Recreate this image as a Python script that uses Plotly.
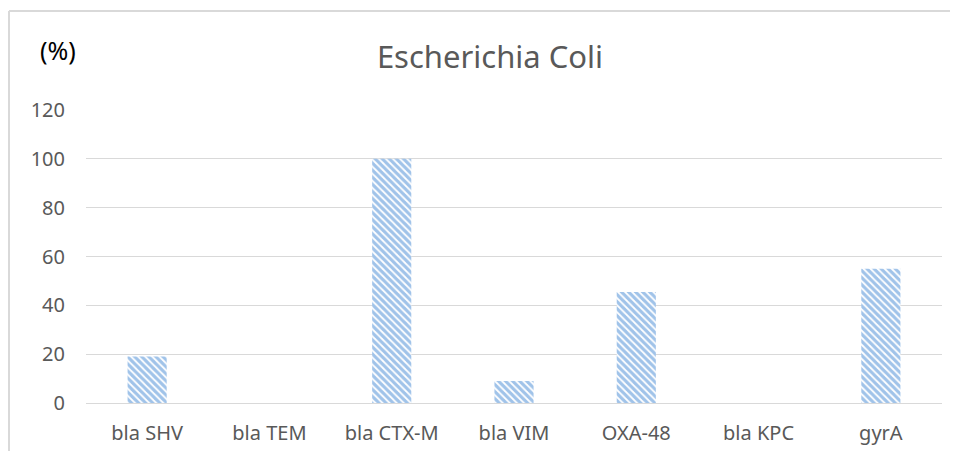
import plotly.graph_objects as go

categories = ["bla SHV", "bla TEM", "bla CTX-M", "bla VIM", "OXA-48", "bla KPC", "gyrA"]
values = [19, 0, 100, 9, 45.5, 0, 55]
y_ticks = [0, 20, 40, 60, 80, 100, 120]

fig = go.Figure()
fig.add_trace(go.Bar(
    x=categories, y=values,
    marker=dict(
        color="white",
        line=dict(width=0),
        pattern=dict(shape="\\", fgcolor="#4287D4", bgcolor="white", size=5, solidity=0.65, fillmode="overlay"),
    ),
))

OFF = 8  # page body offset
W, H = 958 - 2 * OFF, 459 - 2 * OFF
# target pixel positions of plot area
PL, PR, PT, PB = 86, 942, 110, 403
L, R, T, B = PL - OFF, (W + OFF) - PR, PT - OFF, (H + OFF) - PB
pw, ph = PR - PL, PB - PT

fig.update_layout(
    width=W, height=H,
    margin=dict(l=L, r=R, t=T, b=B, autoexpand=False),
    paper_bgcolor="white", plot_bgcolor="white",
    bargap=0.68,
    showlegend=False,
    font=dict(family="Noto Sans, Open Sans, sans-serif", color="#595959", size=20),
    title=dict(text="Escherichia Coli", x=(490 - OFF) / W, xanchor="center", y=1 - (57 - OFF) / H, yanchor="middle",
               font=dict(size=31, color="#595959")),
    xaxis=dict(showgrid=False, showline=False, ticks="", ticklabelstandoff=16, automargin=False,
               tickfont=dict(size=20, color="#595959")),
    yaxis=dict(range=[0, 120], tickvals=y_ticks, showgrid=True, gridcolor="#D9D9D9", gridwidth=1,
               zeroline=True, zerolinecolor="#D9D9D9", zerolinewidth=1, showline=False, ticks="",
               automargin=False, ticklabelstandoff=20, tickfont=dict(size=20, color="#595959")),
    annotations=[dict(text="(%)", xref="paper", yref="paper", x=(58 - PL) / pw, y=(PB - 50) / ph,
                      xanchor="center", yanchor="middle", showarrow=False,
                      font=dict(size=25, color="#000000"))],
    shapes=[
        dict(type="line", xref="paper", yref="paper", x0=(9 - PL) / pw, x1=(9 - PL) / pw,
             y0=(PB - 11) / ph, y1=(PB - 470) / ph, line=dict(color="#D9D9D9", width=2)),
        dict(type="line", xref="paper", yref="paper", x0=(9 - PL) / pw, x1=(970 - PL) / pw,
             y0=(PB - 11) / ph, y1=(PB - 11) / ph, line=dict(color="#D9D9D9", width=2)),
    ],
)

fig.write_html("out.html")
